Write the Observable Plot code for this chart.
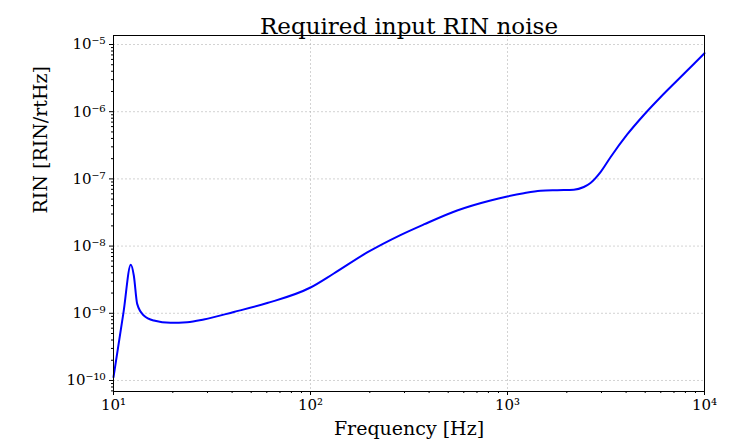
<!DOCTYPE html>
<html>
<head>
<meta charset="utf-8">
<script src="https://cdn.jsdelivr.net/npm/d3@7"></script>
<script src="https://cdn.jsdelivr.net/npm/@observablehq/plot@0.6"></script>
<style>
  html, body { margin: 0; padding: 0; background: #fff; }
</style>
</head>
<body>
<div id="chart"></div>
<script>
const titleText = "Required input RIN noise";
const xLabel = "Frequency [Hz]";
const yLabel = "RIN [RIN/rtHz]";

const freq = [10, 11.24, 12.24, 12.68, 13.19, 14.25, 16.02, 19.47, 23.67, 28.73, 40.8, 60.3, 100, 131.3, 194, 286, 376, 555, 820, 997, 1210, 1471, 1788, 2171, 2440, 2638, 2966, 3333, 4052, 4920, 5979, 7267, 8825, 10000];
const rin = [1.12e-10, 1.03e-9, 5.27e-9, 3.65e-9, 1.38e-9, 9.27e-10, 7.8e-10, 7.23e-10, 7.38e-10, 8.09e-10, 1.045e-9, 1.42e-9, 2.42e-9, 3.91e-9, 8.04e-9, 1.46e-8, 2.1e-8, 3.39e-8, 4.78e-8, 5.47e-8, 6.12e-8, 6.65e-8, 6.79e-8, 6.89e-8, 7.57e-8, 8.69e-8, 1.26e-7, 2.1e-7, 4.58e-7, 8.93e-7, 1.64e-6, 2.91e-6, 5.13e-6, 7.4e-6];

const xMajor = [10, 100, 1000, 10000];
const yMajor = [1e-10, 1e-9, 1e-8, 1e-7, 1e-6, 1e-5];
const xDomain = [10, 10000];
const yDomain = [Math.pow(10, -10.164), Math.pow(10, -4.866)];

const sup = {"-": "⁻", "0": "⁰", "1": "¹", "2": "²", "3": "³", "4": "⁴", "5": "⁵", "6": "⁶", "7": "⁷", "8": "⁸", "9": "⁹"};
const fmt = v => "10" + String(Math.round(Math.log10(v))).split("").map(c => sup[c]).join("");

function minors(lo, hi) {
  const out = [];
  for (let e = Math.floor(Math.log10(lo)) - 1; e <= Math.ceil(Math.log10(hi)); e++) {
    for (let k = 2; k <= 9; k++) {
      const v = k * Math.pow(10, e);
      if (v >= lo && v <= hi) out.push(v);
    }
  }
  return out;
}
const xMinor = minors(xDomain[0], xDomain[1]);
const yMinor = minors(yDomain[0], yDomain[1]);

const data = freq.map((f, i) => ({f, r: rin[i]}));
const font = "'DejaVu Serif', 'Liberation Serif', serif";

const chart = Plot.plot({
  width: 735,
  height: 447,
  marginLeft: 113,
  marginRight: 31,
  marginTop: 35,
  marginBottom: 56,
  style: {fontFamily: font, background: "#fff", color: "#000"},
  x: {type: "log", domain: xDomain},
  y: {type: "log", domain: yDomain},
  marks: [
    Plot.gridX(xMajor, {stroke: "#b0b0b0", strokeOpacity: 0.7, strokeDasharray: "2,2", strokeWidth: 0.8}),
    Plot.gridY(yMajor, {stroke: "#b0b0b0", strokeOpacity: 0.7, strokeDasharray: "2,2", strokeWidth: 0.8}),
    Plot.line(data, {x: "f", y: "r", stroke: "#0000ff", strokeWidth: 2, curve: "monotone-x"}),
    Plot.frame({stroke: "#000", strokeWidth: 1}),
    Plot.axisX({ticks: xMajor, tickFormat: fmt, tickSize: 4, tickPadding: 4, fontSize: 15, label: null, anchor: "bottom"}),
    Plot.axisX({ticks: xMinor, tickFormat: null, text: null, tickSize: 2, label: null, anchor: "bottom"}),
    Plot.axisY({ticks: yMajor, tickFormat: fmt, tickSize: 4, tickPadding: 4, fontSize: 15, label: null, anchor: "left"}),
    Plot.axisY({ticks: yMinor, tickFormat: null, text: null, tickSize: 2, label: null, anchor: "left"}),
    Plot.text([xLabel], {text: d => d, frameAnchor: "bottom", dy: 43, fontSize: 19}),
    Plot.text([yLabel], {text: d => d, frameAnchor: "left", dx: -73, rotate: -90, fontSize: 19}),
    Plot.text([titleText], {text: d => d, frameAnchor: "top", dy: -18, fontSize: 23})
  ]
});
document.getElementById("chart").appendChild(chart);
</script>
</body>
</html>
